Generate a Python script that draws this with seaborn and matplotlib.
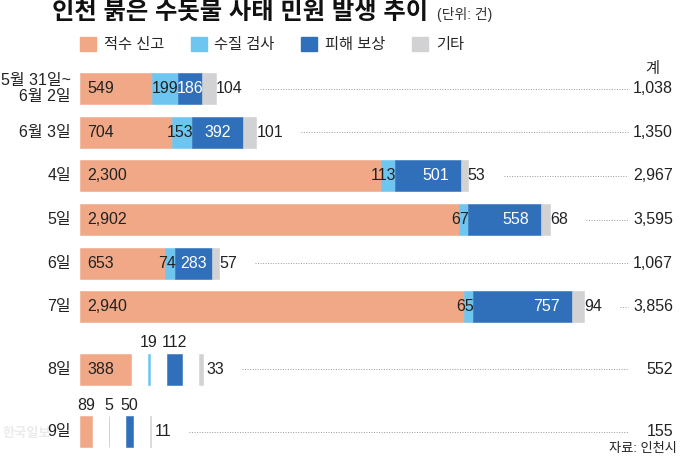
import pandas as pd
import seaborn as sns
import matplotlib.pyplot as plt
from matplotlib.patches import Patch

# 날짜별 민원 건수 (단위: 건)
dates = ['5월 31일~\n6월 2일', '6월 3일', '4일', '5일', '6일', '7일', '8일', '9일']
report = [549, 704, 2300, 2902, 653, 2940, 388, 89]    # 적수 신고
test = [199, 153, 113, 67, 74, 65, 19, 5]              # 수질 검사
repay = [186, 392, 501, 558, 283, 757, 112, 50]        # 피해 보상
other = [104, 101, 53, 68, 57, 94, 33, 11]             # 기타
categories = ['적수 신고', '수질 검사', '피해 보상', '기타']
split_rows = ['8일', '9일']   # 값이 작아서 막대를 띄워 그리는 날

sns.set_theme(style='white')
# 숫자는 Liberation Sans, 한글은 Noto Sans CJK KR
plt.rcParams['font.family'] = ['Liberation Sans', 'Noto Sans CJK KR', 'DejaVu Sans']
colors = sns.color_palette(['#F0A887', '#6EC6F0', '#3070BA', '#D2D2D4'])
ink = '#222222'
fs = 11.5

df = pd.DataFrame({'date': dates, '적수 신고': report, '수질 검사': test,
                   '피해 보상': repay, '기타': other})
df['total'] = df[categories].sum(axis=1)

# 픽셀 기준 레이아웃
PX = 0.1307          # 1건당 픽셀
X0 = 80              # 막대 시작 위치(px)
W, H = 680, 458

fig = plt.figure(figsize=(W / 100, H / 100), dpi=100)
ax = fig.add_axes([0, 0, 1, 1])
ax.set_xlim(-X0 / PX, (W - X0) / PX)
ax.set_ylim(H, 0)
ax.axis('off')


def px(n):
    return (n - X0) / PX


# 행 위치
ys = []
y = 88.7
for i, d in enumerate(dates):
    if i > 0:
        y += 62.5 if d in split_rows else 43.6
    ys.append(y)

bar_h = 31
gap = 17 / PX
end_labels = []

for i, row in df.iterrows():
    y = ys[i]
    split = row['date'] in split_rows
    left = 0
    last = None
    for j, cat in enumerate(categories):
        v = row[cat]
        ax.barh(y, v, left=left, height=bar_h, color=colors[j],
                edgecolor=colors[j], linewidth=0.4)
        end = left + v
        wpx = v * PX
        txt = f'{v:,}'
        if split:
            if wpx > 30:
                t = ax.text(left + 7 / PX, y, txt, ha='left', va='center', fontsize=fs, color=ink)
            elif j == 3:
                t = ax.text(end + 3 / PX, y, txt, ha='left', va='center', fontsize=fs, color=ink)
            else:
                t = ax.text(left + v / 2, y - bar_h / 2 - 11, txt, ha='center', va='center',
                            fontsize=fs, color=ink)
        else:
            if j == 0:
                t = ax.text(left + 7 / PX, y, txt, ha='left', va='center', fontsize=fs, color=ink)
            elif j == 1:
                t = ax.text(end + 1 / PX, y, txt, ha='right', va='center', fontsize=fs, color=ink)
            elif j == 2:
                if wpx > 60:
                    t = ax.text(end - 12 / PX, y, txt, ha='right', va='center', fontsize=fs, color='white')
                else:
                    t = ax.text(left + v / 2, y, txt, ha='center', va='center', fontsize=fs, color='white')
            else:
                t = ax.text(end, y, txt, ha='left', va='center', fontsize=fs, color=ink)
        last = t
        left = end + (gap if split else 0)
    end_labels.append(last)

    # 날짜 라벨
    ax.text(px(71), y, row['date'], ha='right', va='center', fontsize=fs,
            color=ink, multialignment='right', linespacing=1.1)
    # 합계
    ax.text(px(673), y, f"{row['total']:,}", ha='right', va='center', fontsize=fs, color=ink)

ax.text(px(652), 69, '계', ha='center', va='center', fontsize=11, color=ink)

# 점선 (라벨 끝 ~ 합계 앞)
fig.canvas.draw()
renderer = fig.canvas.get_renderer()
for t, y in zip(end_labels, ys):
    bb = t.get_window_extent(renderer)
    ax.plot([px(bb.x1 + 18), px(628)], [y, y], color='#9a9a9a', lw=0.7,
            ls=(0, (1, 1.6)))

# 제목, 범례, 출처
fig.text(52 / W, 1 - 12 / H, '인천 붉은 수돗물 사태 민원 발생 추이', fontsize=17.5,
         fontweight='bold', va='center', ha='left', color='#111111')
fig.text(437 / W, 1 - 15 / H, '(단위: 건)', fontsize=10, va='center', ha='left', color='#333333')

handles = [Patch(facecolor=c, edgecolor=c, label=l) for c, l in zip(colors, categories)]
fig.legend(handles=handles, loc='upper left', bbox_to_anchor=(80 / W, 1 - 37 / H),
           ncol=4, frameon=False, fontsize=11, handlelength=1.05, handleheight=1.0,
           handletextpad=0.5, columnspacing=1.75, borderpad=0, borderaxespad=0)

ax.text(px(677), 449, '자료: 인천시', ha='right', va='center', fontsize=9.5, color=ink)
ax.text(px(2), 434, '한국일보', ha='left', va='center', fontsize=9.5, fontweight='bold',
        color='#ebebeb', zorder=0)

fig.savefig('out.png', dpi=100)
